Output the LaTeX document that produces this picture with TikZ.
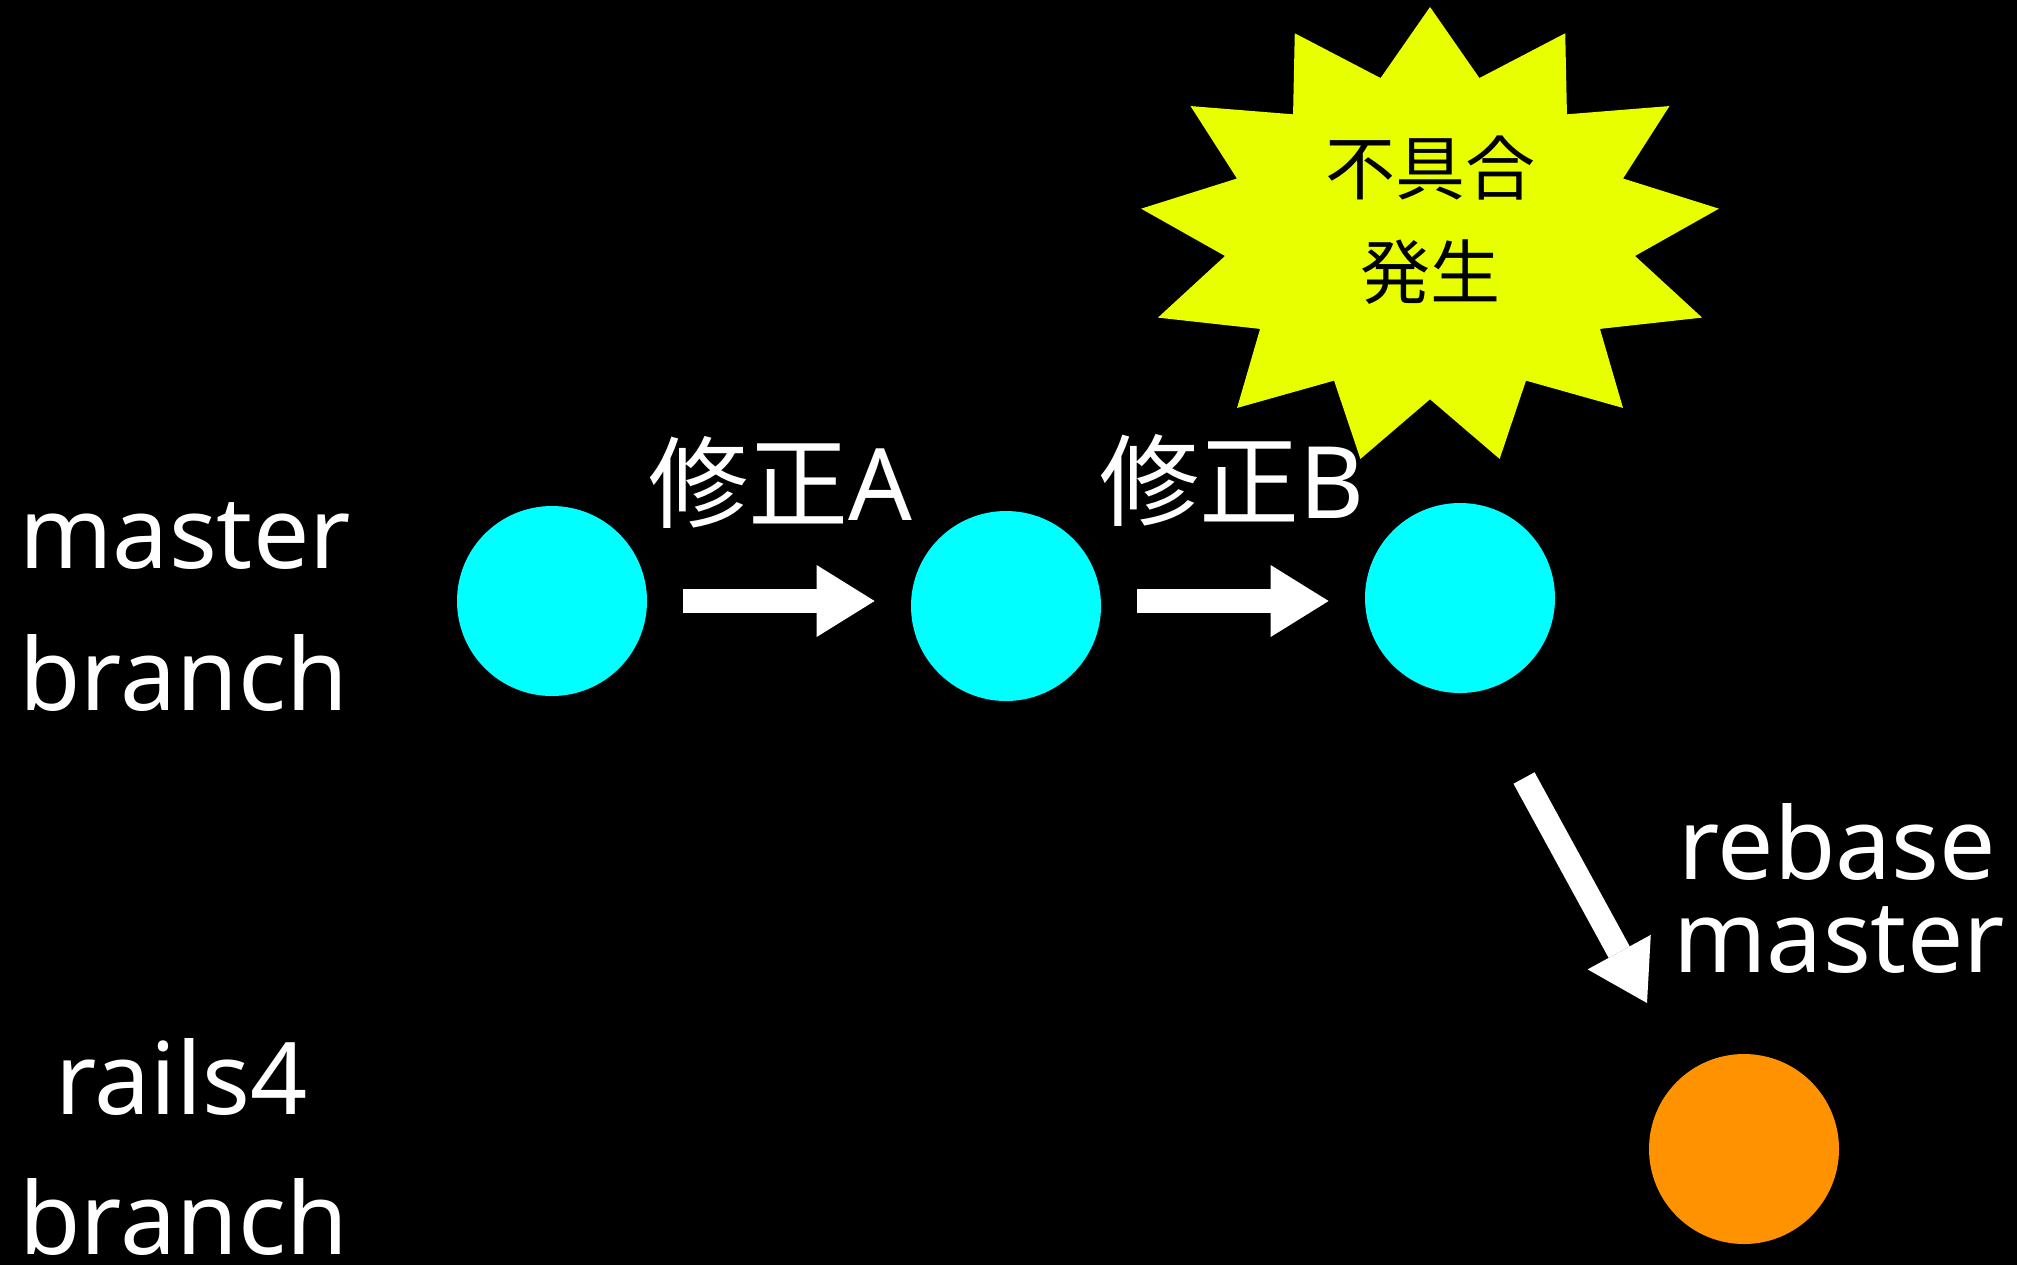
\documentclass[tikz,border=0pt]{standalone}
\usepackage{fontspec}
\setmainfont{Noto Sans}
\newfontfamily\cjk{Noto Sans CJK JP}
\usetikzlibrary{arrows.meta}
\definecolor{commitblue}{RGB}{0,255,255}
\definecolor{commitorange}{RGB}{255,146,0}
\definecolor{burstyellow}{RGB}{232,255,0}
\begin{document}
\begin{tikzpicture}[x=0.5pt,y=-0.5pt,
  lbl/.style={text=white, font=\fontsize{50pt}{60pt}\selectfont, inner sep=0pt, anchor=base west},
  startext/.style={text=black, font=\fontsize{35pt}{42pt}\selectfont\cjk, inner sep=0pt, anchor=base},
  commit/.style={circle, inner sep=0pt, minimum size=95pt},
  flow/.style={white, line width=12pt, -{Triangle[length=29pt,width=36pt,line width=0pt]}},
]
\useasboundingbox (0,0) rectangle (2017,1265);
\fill[black] (0,0) rectangle (2017,1265);

% starburst
\fill[burstyellow] ({1430+291*cos(270)},{236.3+229.3*sin(270)})
  \foreach \k in {1,...,12} {
    -- ({1430+206.5*cos(270+(2*\k-1)*13.846)},{236.3+163*sin(270+(2*\k-1)*13.846)})
    -- ({1430+291*cos(270+2*\k*13.846)},{236.3+229.3*sin(270+2*\k*13.846)})
  }
  -- ({1430+206.5*cos(270+25*13.846)},{236.3+163*sin(270+25*13.846)}) -- cycle;
\node[startext] (bug1) at (1430,194) {不具合};
\node[startext] (bug2) at (1430,298) {発生};

% branch labels
\node[lbl] (mlab1) at (19,568) {master};
\node[lbl] (mlab2) at (19,710) {branch};
\node[lbl] (rlab1) at (55,1114) {rails4};
\node[lbl] (rlab2) at (19,1254) {branch};

% commits
\node[commit, fill=commitblue] (c1) at (552,601) {};
\node[commit, fill=commitblue] (c2) at (1006,606) {};
\node[commit, fill=commitblue] (c3) at (1460,598) {};
\node[commit, fill=commitorange] (c4) at (1744,1149) {};

% commit labels
\node[lbl] (fixA) at (648,520) {{\cjk 修正}A};
\node[lbl] (fixB) at (1099,518) {{\cjk 修正}B};
\node[lbl] (rb1) at (1678,879) {rebase};
\node[lbl] (rb2) at (1673,972) {master};

% arrows
\draw[flow] ([xshift=18pt]c1.east) -- ([xshift=-18pt]c2.west |- c1.east);
\draw[flow] ([xshift=18pt]c2.east |- c1.east) -- ([xshift=-18pt]c3.west |- c1.east);
\coordinate (rbtail) at (1524,778);
\coordinate (rbtip) at (1647,1003);
\draw[flow] (rbtail) -- (rbtip);
\end{tikzpicture}
\end{document}
